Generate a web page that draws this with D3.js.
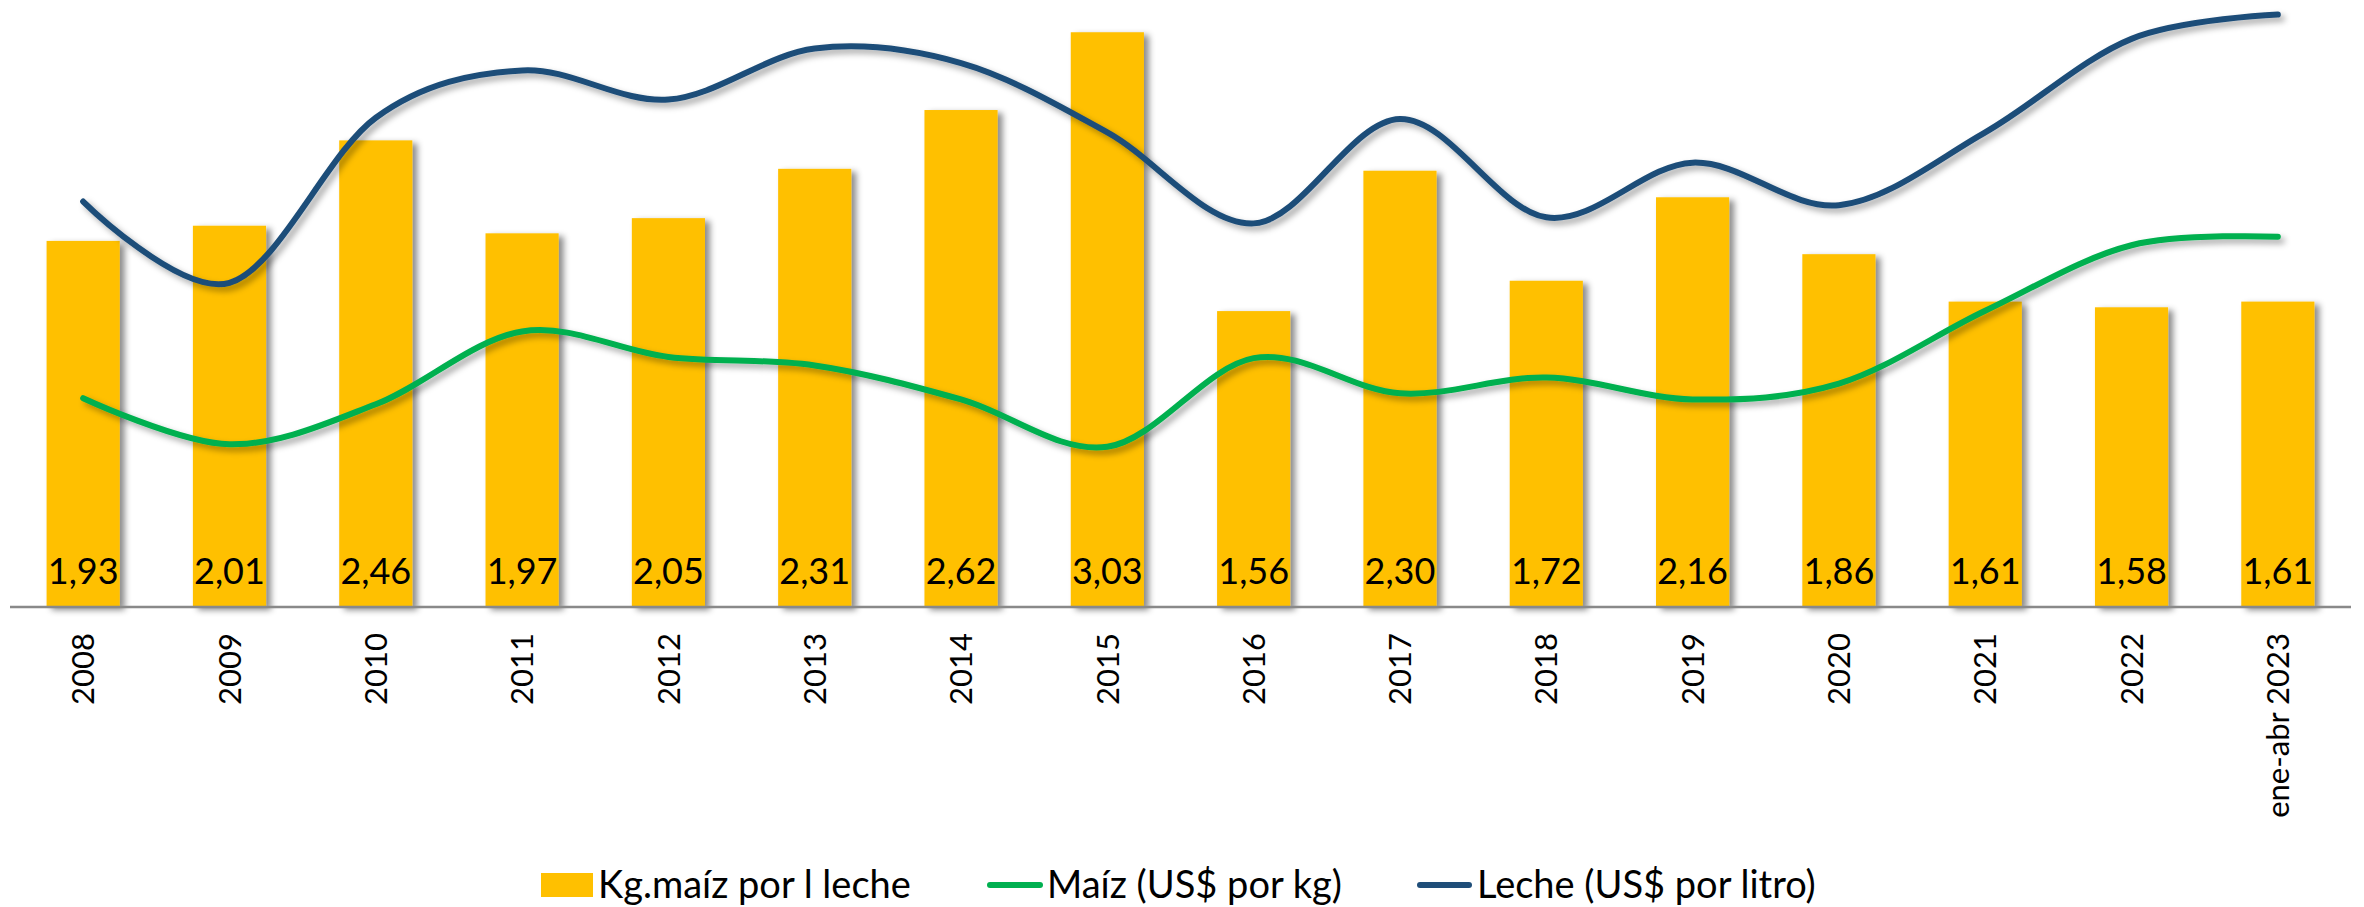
<!DOCTYPE html>
<html lang="es">
<head>
<meta charset="utf-8">
<title>Kg de maíz por litro de leche</title>
<script src="https://cdn.jsdelivr.net/npm/d3@7"></script>
<style>
  html, body { margin: 0; padding: 0; background: #fff; }
  #chart text { font-family: Lato, "Open Sans", sans-serif; fill: #000; }
</style>
</head>
<body>
<div id="chart"></div>
<script>
// categories and series
const years = ["2008","2009","2010","2011","2012","2013","2014","2015","2016","2017","2018","2019","2020","2021","2022","ene-abr 2023"];
const kgMaizPorLitro = [1.93,2.01,2.46,1.97,2.05,2.31,2.62,3.03,1.56,2.30,1.72,2.16,1.86,1.61,1.58,1.61];
const maiz = [0.172,0.134,0.167,0.227,0.206,0.199,0.171,0.132,0.205,0.176,0.189,0.171,0.184,0.244,0.298,0.305];
const leche = [0.334,0.267,0.403,0.442,0.418,0.460,0.448,0.391,0.316,0.402,0.321,0.366,0.331,0.391,0.468,0.488];
const legendLabels = ["Kg.maíz por l leche", "Maíz (US$ por kg)", "Leche (US$ por litro)"];

const W = 2364, H = 907;
const margin = {top: 0, right: 13, bottom: 300, left: 10};
const baseY = H - margin.bottom;

const svg = d3.select("#chart").append("svg")
    .attr("width", W).attr("height", H);

// drop shadows like the excel "outer shadow"
const defs = svg.append("defs");
defs.append("filter").attr("id", "shadowBar")
    .attr("x", "-20%").attr("y", "-5%").attr("width", "150%").attr("height", "110%")
  .append("feDropShadow")
    .attr("dx", 5).attr("dy", 3).attr("stdDeviation", 3)
    .attr("flood-color", "#000").attr("flood-opacity", 0.45);
defs.append("filter").attr("id", "shadowLine")
    .attr("x", "-5%").attr("y", "-20%").attr("width", "110%").attr("height", "140%")
  .append("feDropShadow")
    .attr("dx", 4).attr("dy", 4).attr("stdDeviation", 3)
    .attr("flood-color", "#000").attr("flood-opacity", 0.35);

const x = d3.scaleBand()
    .domain(years)
    .range([margin.left, W - margin.right])
    .paddingInner(0.5).paddingOuter(0.25);

const yBar = d3.scaleLinear().domain([0, 3.2]).range([baseY, margin.top]);
const yLine = d3.scaleLinear().domain([0, 0.5]).range([baseY, margin.top]);

const es = d3.formatLocale({decimal: ",", thousands: ".", grouping: [3], currency: ["", "US$"]});
const fmt = es.format(".2f");

// bars
svg.append("g").selectAll("rect")
    .data(years)
    .join("rect")
    .attr("x", d => x(d))
    .attr("y", (d, i) => yBar(kgMaizPorLitro[i]))
    .attr("width", x.bandwidth())
    .attr("height", (d, i) => baseY - yBar(kgMaizPorLitro[i]))
    .attr("fill", "#FFC000")
    .attr("filter", "url(#shadowBar)");

// axis line + rotated category labels
const xAxis = svg.append("g")
    .attr("transform", "translate(0," + baseY + ")")
    .call(d3.axisBottom(x).tickSize(0).tickPadding(0));
xAxis.select(".domain").attr("stroke", "#898989").attr("stroke-width", 2.5)
    .attr("d", "M" + margin.left + ",0H" + (W - margin.right));
xAxis.selectAll(".tick text")
    .attr("transform", "rotate(-90)")
    .attr("text-anchor", "end")
    .attr("x", -26)
    .attr("y", 0)
    .attr("dy", "0.36em")
    .style("font-size", "31px")
    .style("font-family", "Lato, sans-serif")
    .attr("fill", "#000");

// smoothed lines
const line = arr => d3.line()
    .x((d, i) => x(years[i]) + x.bandwidth() / 2)
    .y(d => yLine(d))
    .curve(d3.curveCatmullRom.alpha(0))(arr);

svg.append("path")
    .attr("d", line(leche))
    .attr("fill", "none").attr("stroke", "#1F4E79").attr("stroke-width", 6)
    .attr("stroke-linecap", "round")
    .attr("filter", "url(#shadowLine)");

svg.append("path")
    .attr("d", line(maiz))
    .attr("fill", "none").attr("stroke", "#00B050").attr("stroke-width", 6)
    .attr("stroke-linecap", "round")
    .attr("filter", "url(#shadowLine)");

// value labels at the foot of each bar
svg.append("g").selectAll("text")
    .data(years)
    .join("text")
    .attr("x", d => x(d) + x.bandwidth() / 2)
    .attr("y", baseY - 23)
    .attr("text-anchor", "middle")
    .style("font-size", "36px")
    .text((d, i) => fmt(kgMaizPorLitro[i]));

// legend
const legendY = 885;
const legend = svg.append("g");
legend.append("rect")
    .attr("x", 541).attr("y", legendY - 12)
    .attr("width", 52).attr("height", 24)
    .attr("fill", "#FFC000");
legend.append("line")
    .attr("x1", 990).attr("x2", 1040)
    .attr("y1", legendY).attr("y2", legendY)
    .attr("stroke", "#00B050").attr("stroke-width", 6)
    .attr("stroke-linecap", "round");
legend.append("line")
    .attr("x1", 1420).attr("x2", 1469)
    .attr("y1", legendY).attr("y2", legendY)
    .attr("stroke", "#1F4E79").attr("stroke-width", 6)
    .attr("stroke-linecap", "round");

const legendX = [598, 1047, 1477];
legend.selectAll("text")
    .data(legendLabels)
    .join("text")
    .attr("x", (d, i) => legendX[i])
    .attr("y", legendY)
    .attr("dy", "0.34em")
    .style("font-size", "38px")
    .text(d => d);
</script>
</body>
</html>
